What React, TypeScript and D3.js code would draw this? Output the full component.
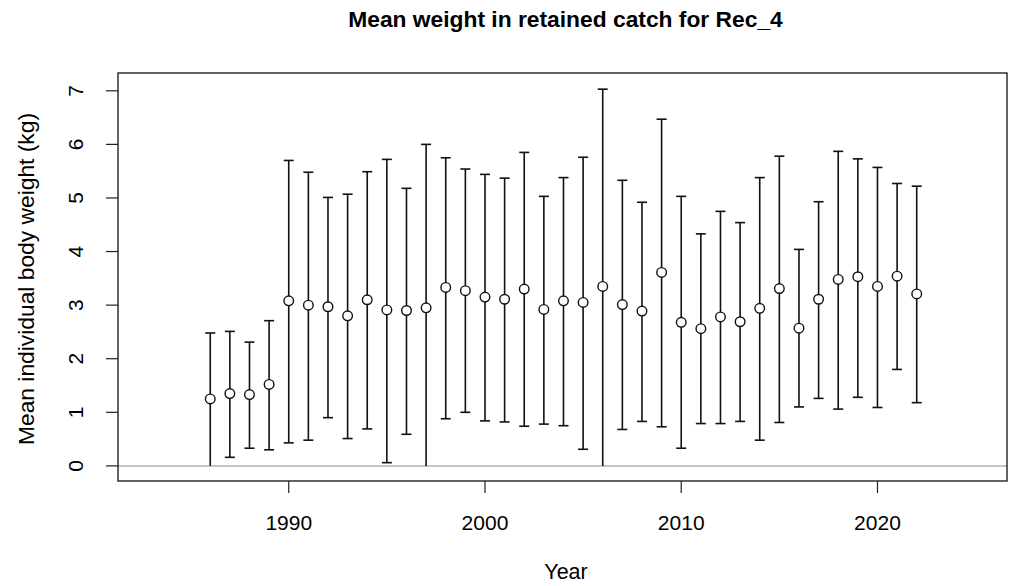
import React from "react";
import * as d3 from "d3";

const years = [1986,1987,1988,1989,1990,1991,1992,1993,1994,1995,1996,1997,1998,1999,2000,2001,2002,2003,2004,2005,2006,2007,2008,2009,2010,2011,2012,2013,2014,2015,2016,2017,2018,2019,2020,2021,2022];
const meanWeight = [1.25,1.35,1.33,1.52,3.08,3.0,2.97,2.80,3.10,2.91,2.90,2.95,3.33,3.27,3.15,3.11,3.30,2.92,3.08,3.05,3.35,3.01,2.89,3.61,2.68,2.56,2.78,2.69,2.94,3.31,2.57,3.11,3.48,3.53,3.35,3.54,3.21];
const upper = [2.48,2.51,2.31,2.71,5.70,5.48,5.01,5.07,5.49,5.72,5.18,6.0,5.75,5.54,5.44,5.37,5.85,5.03,5.38,5.76,7.03,5.33,4.92,6.47,5.03,4.33,4.75,4.54,5.38,5.78,4.04,4.93,5.87,5.73,5.57,5.27,5.22];
const lower = [0,0.16,0.33,0.30,0.43,0.48,0.90,0.51,0.69,0.06,0.59,0,0.88,1.0,0.84,0.82,0.74,0.78,0.75,0.31,0,0.68,0.83,0.73,0.33,0.79,0.79,0.83,0.48,0.81,1.10,1.26,1.06,1.28,1.09,1.80,1.18];
const xTicks = [1990, 2000, 2010, 2020];
const yTicks = [0, 1, 2, 3, 4, 5, 6, 7];

const W = 1010, H = 586;
const L = 118, R = 1007, T = 73, B = 481;
const font = "'Liberation Sans', Arial, Helvetica, sans-serif";

export default function App() {
  const x = d3.scaleLinear().domain([1981.3, 2026.6]).range([L, R]);
  const y = d3.scaleLinear().domain([-0.282, 7.332]).range([B, T]);
  const cap = 5;
  return (
    <svg width={W} height={H} style={{ position: "absolute", left: 0, top: 0, background: "#fff" }}>
      <rect x={0} y={0} width={W} height={H} fill="#fff" />
      <text x={565.5} y={27} textAnchor="middle" fontFamily={font} fontWeight="bold" fontSize={22.8}>
        Mean weight in retained catch for Rec_4
      </text>
      <line x1={L} x2={R} y1={y(0)} y2={y(0)} stroke="#c4c4c4" strokeWidth={2} />
      {years.map((yr, i) => (
        <g key={yr} stroke="#111" strokeWidth={1.6}>
          <line x1={x(yr)} x2={x(yr)} y1={y(upper[i])} y2={y(lower[i])} />
          <line x1={x(yr) - cap} x2={x(yr) + cap} y1={y(upper[i])} y2={y(upper[i])} />
          {lower[i] > 0 && (
            <line x1={x(yr) - cap} x2={x(yr) + cap} y1={y(lower[i])} y2={y(lower[i])} />
          )}
        </g>
      ))}
      {years.map((yr, i) => (
        <circle key={"c" + yr} cx={x(yr)} cy={y(meanWeight[i])} r={4.8} fill="#fff" stroke="#111" strokeWidth={1.4} />
      ))}
      <rect x={L} y={T} width={R - L} height={B - T} fill="none" stroke="#222" strokeWidth={1.4} />
      {xTicks.map((t) => (
        <g key={"xt" + t}>
          <line x1={x(t)} x2={x(t)} y1={B} y2={B + 12} stroke="#222" strokeWidth={1.2} />
          <text x={x(t)} y={530} textAnchor="middle" fontFamily={font} fontSize={21}>{t}</text>
        </g>
      ))}
      {yTicks.map((t) => (
        <g key={"yt" + t}>
          <line x1={L} x2={L - 12} y1={y(t)} y2={y(t)} stroke="#222" strokeWidth={1.2} />
          <text transform={`translate(${83},${y(t)}) rotate(-90)`} textAnchor="middle" fontFamily={font} fontSize={21}>{t}</text>
        </g>
      ))}
      <text x={566} y={579} textAnchor="middle" fontFamily={font} fontSize={21.5}>Year</text>
      <text transform={`translate(34,279) rotate(-90)`} textAnchor="middle" fontFamily={font} fontSize={22.8}>
        Mean individual body weight (kg)
      </text>
    </svg>
  );
}
